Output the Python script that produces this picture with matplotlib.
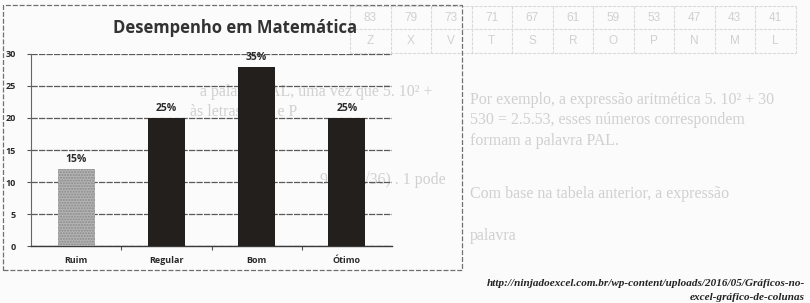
import matplotlib
matplotlib.use("Agg")
import matplotlib.pyplot as plt
from matplotlib.lines import Line2D
from matplotlib.patches import Rectangle

# Chart data: number of students per performance level
categories = ["Ruim", "Regular", "Bom", "Ótimo"]
students = [12, 20, 28, 20]
y_ticks = [0, 5, 10, 15, 20, 25, 30]

# Faint table printed on the reverse side of the page
table_numbers = ["83", "79", "73", "71", "67", "61", "59", "53", "47", "43", "41"]
table_letters = ["Z", "X", "V", "T", "S", "R", "O", "P", "N", "M", "L"]

source_lines = [
    "http://ninjadoexcel.com.br/wp-content/uploads/2016/05/Gráficos-no-",
    "excel-gráfico-de-colunas",
]

W, H = 810, 303
fig = plt.figure(figsize=(W / 100, H / 100), dpi=100)
fig.patch.set_facecolor("#fbfbfb")


def fx(px):
    return px / W


def fy(py):
    return 1 - py / H


ghost = "#d0d0d0"
ghost_line = "#dadada"

# --- show-through from the back of the page -------------------------------
x0, cw = 350, 40.5
for i, (n, l) in enumerate(zip(table_numbers, table_letters)):
    cx = x0 + cw * (i + 0.5)
    fig.text(fx(cx), fy(18), n, color=ghost, fontsize=8.5, family="Liberation Sans",
             ha="center", va="center", zorder=0)
    fig.text(fx(cx), fy(41), l, color=ghost, fontsize=8.5, family="Liberation Sans",
             ha="center", va="center", zorder=0)
for i in range(len(table_numbers) + 1):
    fig.add_artist(Line2D([fx(x0 + cw * i)] * 2, [fy(6), fy(53)], color=ghost_line,
                          lw=0.8, ls=(0, (3, 1)), zorder=0))
for yy in (6, 29, 53):
    fig.add_artist(Line2D([fx(x0), fx(x0 + cw * 11)], [fy(yy)] * 2, color=ghost_line,
                          lw=0.8, ls=(0, (3, 1)), zorder=0))

back_text = [
    (470, 100, "Por exemplo, a expressão aritmética 5. 10² + 30"),
    (470, 120, "530 = 2.5.53, esses números correspondem"),
    (470, 141, "formam a palavra PAL."),
    (470, 194, "Com base na tabela anterior, a expressão"),
    (470, 236, "palavra"),
    (200, 92, "a palavra PAL, uma vez que 5. 10² +"),
    (190, 112, "às letras A, L e P"),
    (320, 180, "900 + √36) . 1 pode"),
]
for x, y, s in back_text:
    fig.text(fx(x), fy(y), s, color=ghost, fontsize=11.5, family="Liberation Serif",
             ha="left", va="center", zorder=0)

# --- chart frame ----------------------------------------------------------
frame = Rectangle((fx(3), fy(270)), fx(462) - fx(3), fy(5) - fy(270),
                  transform=fig.transFigure, fill=False, edgecolor="#707070",
                  lw=0.9, ls=(0, (4, 1.5)), zorder=1)
fig.add_artist(frame)

fig.text(fx(235), fy(28), "Desempenho em Matemática", fontsize=12,
         fontweight="bold", family="Open Sans", color="#333333",
         ha="center", va="center", zorder=3)

ax = fig.add_axes([fx(31), fy(246), fx(392) - fx(31), fy(54) - fy(246)])
ax.patch.set_alpha(0)
ax.set_zorder(2)

pos = list(range(len(categories)))
total = sum(students)
colors = ["#b4b4b4", "#231f1d", "#231f1d", "#231f1d"]
bars = ax.bar(pos, students, width=0.41, color=colors, zorder=3)
bars[0].set_hatch("......")
bars[0].set_edgecolor("#8a8a8a")
bars[0].set_linewidth(0)

for x, v in zip(pos, students):
    ax.text(x, v + 0.6, f"{v / total * 100:.0f}%", ha="center", va="bottom",
            fontsize=7.5, fontweight="bold", family="Open Sans", color="#2a2a2a")

ax.set_xlim(-0.5, len(categories) - 0.5)
ax.set_ylim(0, 30)
ax.set_yticks(y_ticks)
ax.set_yticklabels([str(t) for t in y_ticks], fontsize=6.5, fontweight="bold",
                   family="Open Sans", color="#2a2a2a")
ax.yaxis.grid(True, color="#5a5a5a", lw=0.9, ls=(0, (5, 1)), zorder=1)
ax.set_axisbelow(True)

ax.set_xticks([p + 0.5 for p in pos[:-1]], minor=False)
ax.set_xticklabels([])
ax.set_xticks(pos, minor=True)
ax.set_xticklabels(categories, minor=True, fontsize=6.5, fontweight="bold",
                   family="Open Sans", color="#2a2a2a")
ax.tick_params(axis="x", which="minor", length=0, pad=7)
ax.tick_params(axis="x", which="major", length=3, color="#555", direction="out")
ax.tick_params(axis="y", length=3, color="#555", pad=8)

for side in ("top", "right"):
    ax.spines[side].set_visible(False)
ax.spines["left"].set_color("#666")
ax.spines["left"].set_linestyle((0, (3, 1)))
ax.spines["bottom"].set_color("#3a3a3a")
ax.spines["bottom"].set_linewidth(1.0)

# --- source reference -----------------------------------------------------
for y, s in zip((283, 297), source_lines):
    fig.text(fx(805), fy(y), s, ha="right", va="center", fontsize=8,
             family="Liberation Serif", style="italic", fontweight="bold",
             color="#222")

fig.savefig("out.png", dpi=100, facecolor=fig.get_facecolor())
